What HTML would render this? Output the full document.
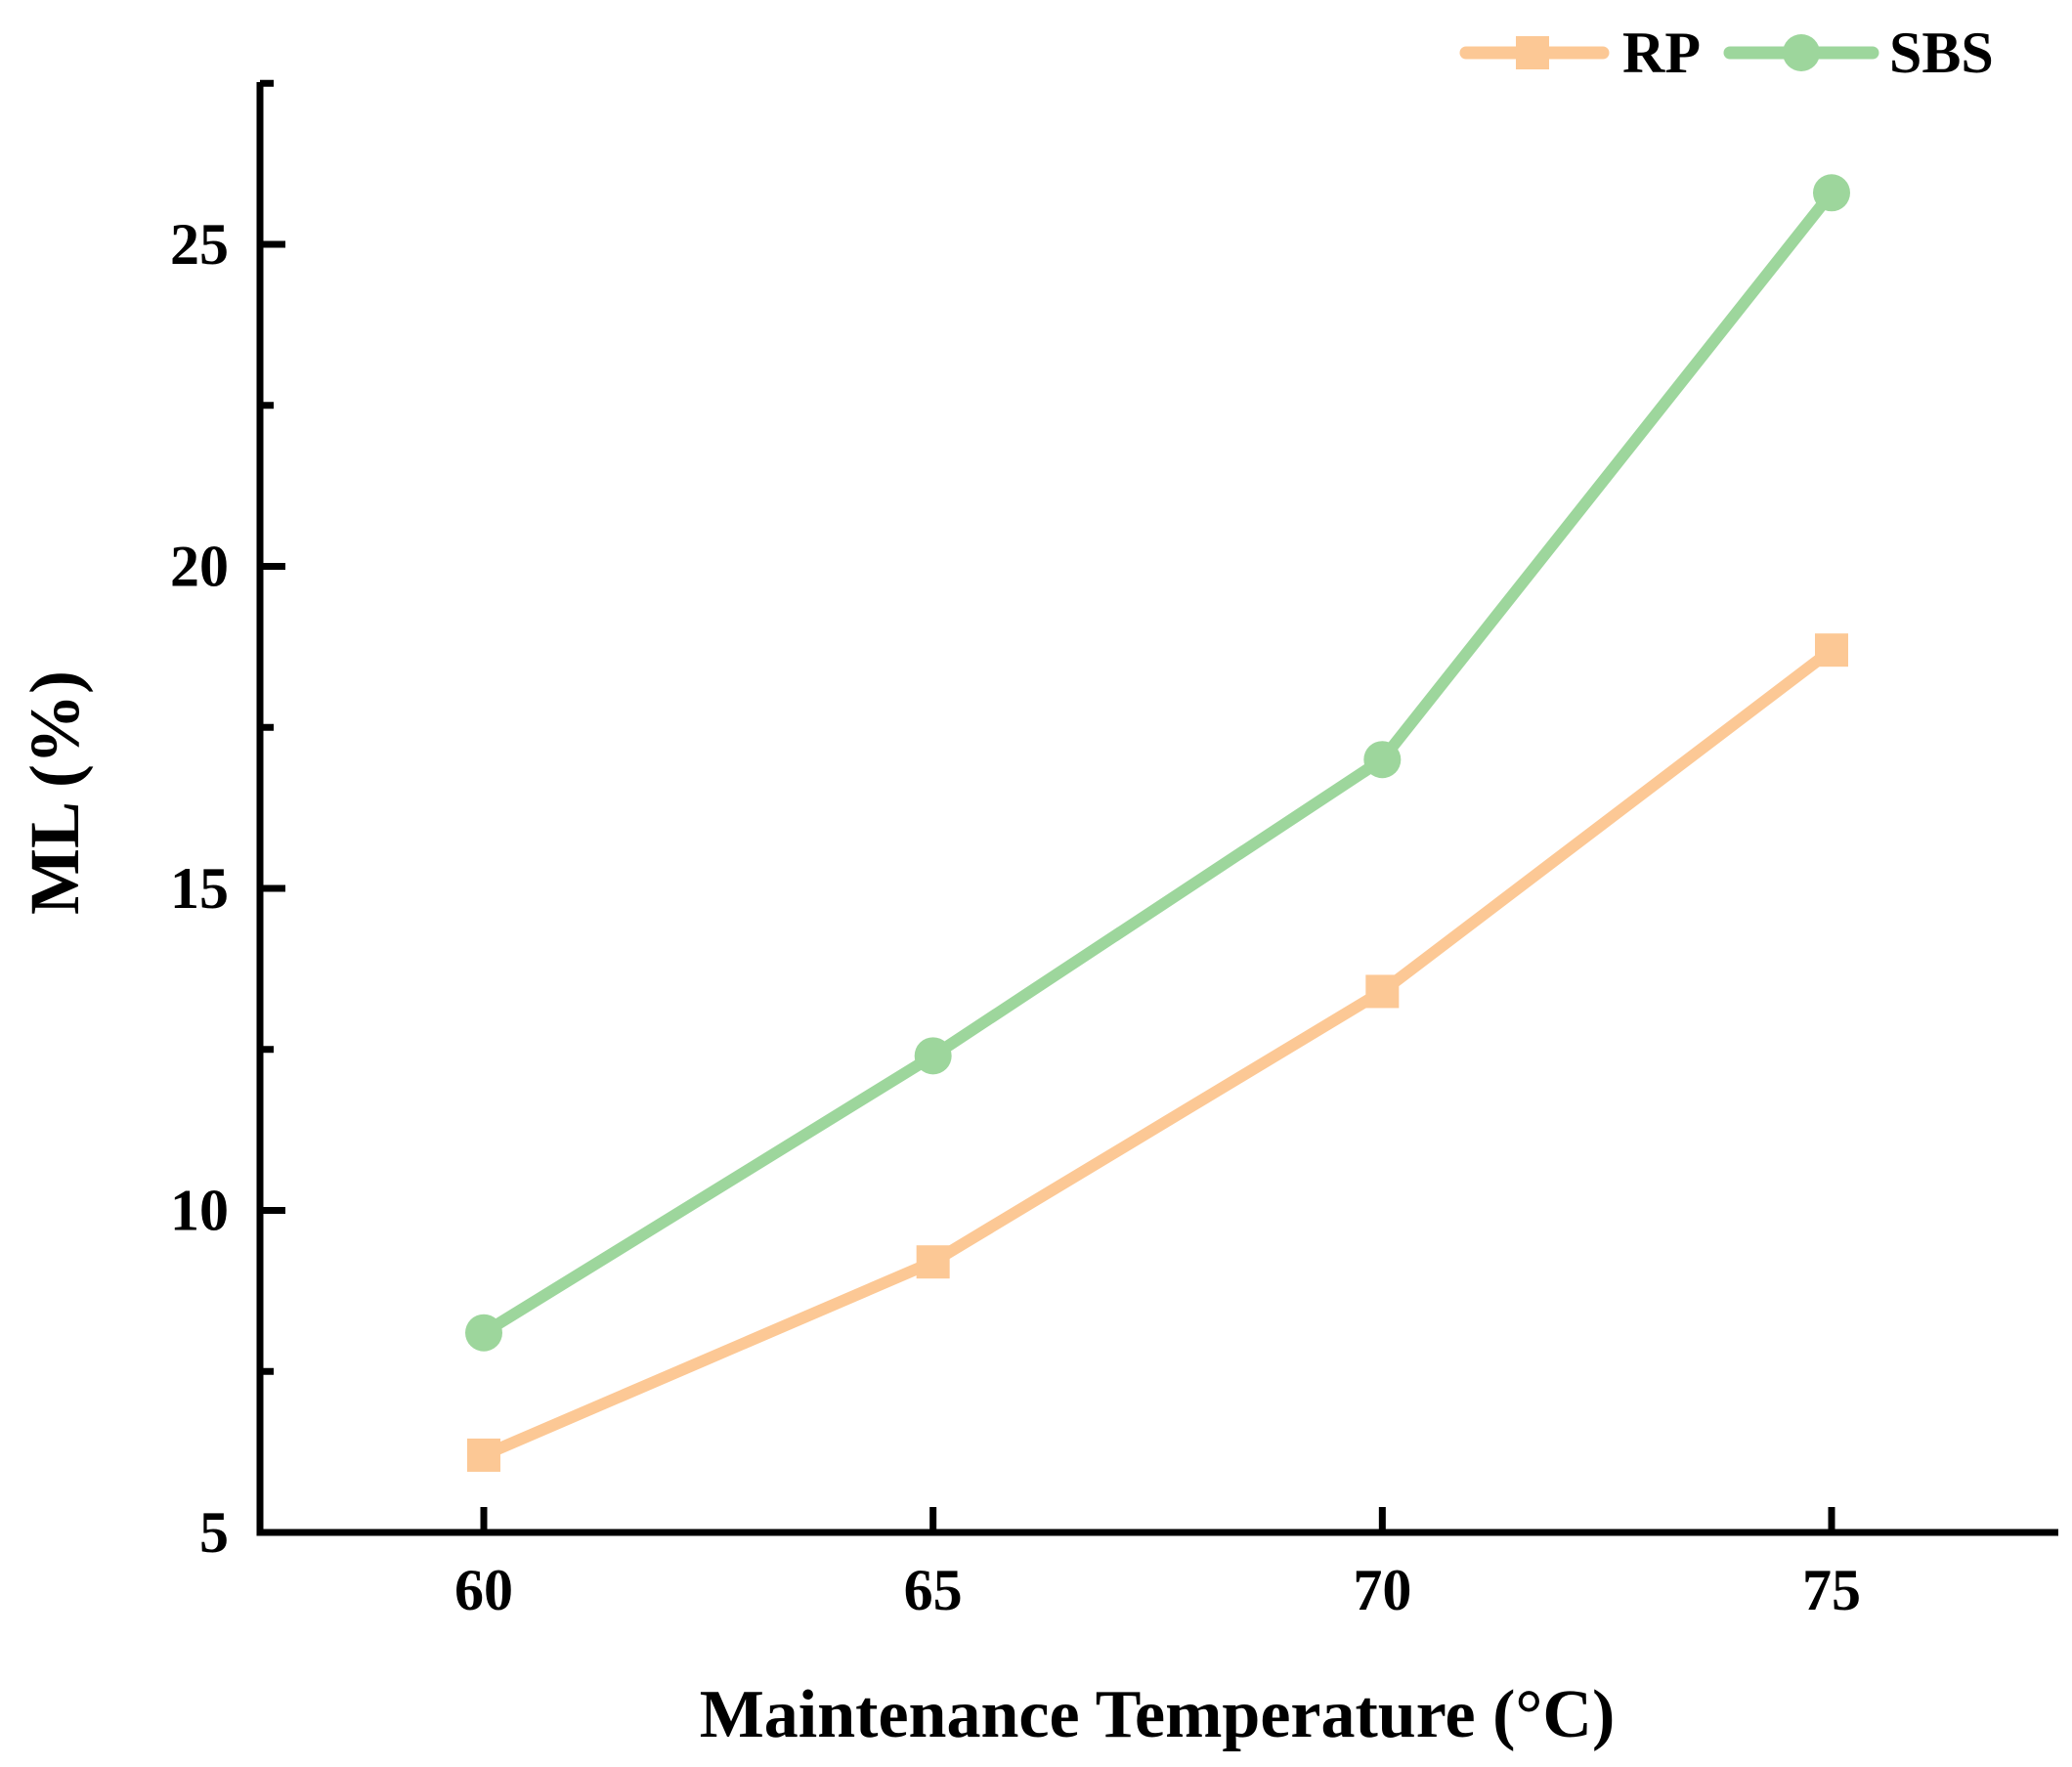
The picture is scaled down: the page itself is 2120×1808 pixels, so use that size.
<!DOCTYPE html>
<html><head><meta charset="utf-8"><style>
html,body{margin:0;padding:0;background:#fff;}
svg text{font-family:"Liberation Serif",serif;font-weight:bold;fill:#000;}
</style></head><body>
<svg id="chart" width="2120" height="1803" viewBox="0 0 2120 1803" xmlns="http://www.w3.org/2000/svg">
<g id="axes"></g>
<g id="series"></g>
<g id="legend"></g>
</svg>
<script>
const categories = [60, 65, 70, 75];
const rpValues = [6.2, 9.2, 13.4, 18.7];
const sbsValues = [8.1, 12.4, 17.0, 25.8];
const yTicks = [5, 10, 15, 20, 25];
const yMinorTicks = [7.5, 12.5, 17.5, 22.5, 27.5];
const xTickLabels = ["60", "65", "70", "75"];

const NS = "http://www.w3.org/2000/svg";
const X0 = 266, XR = 2106, Y0 = 1568, YTOP = 84;
function xScale(v){ return 495 + (v - 60) * (1874 - 495) / 15; }
function yScale(v){ return 1568 - (v - 5) * (1568 - 250) / 20; }
function mk(tag, attrs, parent){ const e = document.createElementNS(NS, tag); for (const k in attrs) e.setAttribute(k, attrs[k]); parent.appendChild(e); return e; }

const axes = document.getElementById('axes');
let el;
el = mk('line', {x1:X0, y1:YTOP, x2:X0, y2:Y0+3.5, stroke:'#000','stroke-width':7}, axes);


el = mk('line', {x1:X0-3.5, y1:Y0, x2:XR, y2:Y0, stroke:'#000','stroke-width':7}, axes);


yTicks.forEach(v => {
  const y = yScale(v);
  el = mk('line', {x1:X0, y1:y, x2:X0+26, y2:y, stroke:'#000','stroke-width':7}, axes);
  
  
  el = mk('text', {x:234, y:y+20, 'text-anchor':'end','font-size':60}, axes);
  el.textContent = String(v);
  
  
});
yMinorTicks.forEach(v => {
  const y = yScale(v);
  el = mk('line', {x1:X0, y1:y, x2:X0+14, y2:y, stroke:'#000','stroke-width':7}, axes);
  
  
});
categories.forEach((c, i) => {
  const x = xScale(c);
  el = mk('line', {x1:x, y1:Y0, x2:x, y2:Y0-26, stroke:'#000','stroke-width':7}, axes);
  
  
  el = mk('text', {x:x, y:1647, 'text-anchor':'middle','font-size':60}, axes);
  el.textContent = xTickLabels[i];
  
  
});
el = mk('text', {x:1184, y:1777, 'text-anchor':'middle','font-size':70}, axes);
el.textContent = 'Maintenance Temperature (°C)';


el = mk('text', {x:0, y:0, 'text-anchor':'middle','font-size':72, transform:'translate(80,811) rotate(-90)'}, axes);
el.textContent = 'ML (%)';



const series = document.getElementById('series');
function drawSeries(vals, color, shape, name){
  const pts = vals.map((v,i) => xScale(categories[i]) + ',' + yScale(v)).join(' ');
  el = mk('polyline', {points:pts, fill:'none', stroke:color, 'stroke-width':12, 'stroke-linejoin':'round'}, series);
  
  
  vals.forEach((v,i) => {
    const x = xScale(categories[i]), y = yScale(v);
    if (shape === 'square') el = mk('rect', {x:x-17, y:y-17, width:34, height:34, fill:color}, series);
    else el = mk('circle', {cx:x, cy:y, r:19, fill:color}, series);
    
    
  });
}
drawSeries(rpValues, '#fcc895', 'square', 'rp');
drawSeries(sbsValues, '#9dd69c', 'circle', 'sbs');

const legend = document.getElementById('legend');
el = mk('line', {x1:1500, y1:54, x2:1640, y2:54, stroke:'#fcc895','stroke-width':13,'stroke-linecap':'round'}, legend);


el = mk('rect', {x:1551, y:37, width:34, height:34, fill:'#fcc895'}, legend);


el = mk('text', {x:1660, y:74, 'font-size':60}, legend);
el.textContent = 'RP';


el = mk('line', {x1:1770, y1:54, x2:1916, y2:54, stroke:'#9dd69c','stroke-width':13,'stroke-linecap':'round'}, legend);


el = mk('circle', {cx:1843, cy:54, r:19, fill:'#9dd69c'}, legend);


el = mk('text', {x:1933, y:74, 'font-size':60}, legend);
el.textContent = 'SBS';


</script>
</body></html>
